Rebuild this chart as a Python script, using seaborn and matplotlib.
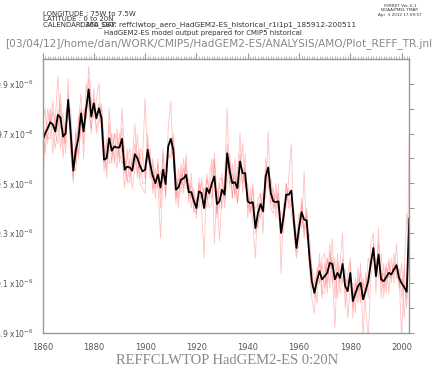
import numpy as np
import pandas as pd
import seaborn as sns
import matplotlib.pyplot as plt
from matplotlib.ticker import MultipleLocator, FixedLocator

sns.set_style("white")
plt.rcParams['font.family'] = ['DejaVu Sans']

# annual values 1860-2003, units 1e-6 m
years = list(range(1860, 2004))

# ensemble mean (black)
mean = [
    9.67, 9.70, 9.72, 9.745, 9.737, 9.708, 9.775, 9.764, 9.688, 9.70,
    9.835, 9.70, 9.551, 9.635, 9.681, 9.781, 9.708, 9.80, 9.877, 9.768,
    9.821, 9.761, 9.801, 9.761, 9.595, 9.601, 9.681, 9.631, 9.648, 9.644,
    9.644, 9.679, 9.555, 9.567, 9.564, 9.551, 9.617, 9.601, 9.57, 9.548,
    9.555, 9.635, 9.575, 9.53, 9.501, 9.535, 9.484, 9.555, 9.497, 9.648,
    9.679, 9.635, 9.475, 9.484, 9.515, 9.52, 9.535, 9.465, 9.465, 9.43,
    9.401, 9.468, 9.461, 9.401, 9.481, 9.461, 9.50, 9.528, 9.417, 9.428,
    9.475, 9.455, 9.621, 9.548, 9.501, 9.505, 9.481, 9.588, 9.541, 9.541,
    9.428, 9.421, 9.425, 9.321, 9.381, 9.417, 9.388, 9.528, 9.564, 9.461,
    9.428, 9.425, 9.428, 9.301, 9.368, 9.455, 9.455, 9.471, 9.348, 9.241,
    9.321, 9.385, 9.355, 9.351, 9.215, 9.108, 9.061, 9.111, 9.148, 9.115,
    9.128, 9.141, 9.181, 9.177, 9.115, 9.141, 9.121, 9.177, 9.088, 9.068,
    9.141, 9.028, 9.06, 9.088, 9.101, 9.035, 9.07, 9.108, 9.18, 9.241,
    9.128, 9.215, 9.115, 9.108, 9.124, 9.141, 9.135, 9.155, 9.172, 9.121,
    9.10, 9.084, 9.065, 9.361,
]

# individual ensemble members (light red)
run1 = [
    9.50, 9.66, 9.80, 9.74, 9.83, 9.70, 9.66, 9.82, 9.60, 9.74,
    9.76, 9.80, 9.58, 9.55, 9.74, 9.86, 9.60, 9.78, 9.84, 9.70,
    9.88, 9.70, 9.74, 9.82, 9.66, 9.52, 9.74, 9.58, 9.70, 9.60,
    9.70, 9.62, 9.48, 9.64, 9.52, 9.60, 9.74, 9.54, 9.62, 9.50,
    9.50, 9.70, 9.52, 9.58, 9.44, 9.60, 9.40, 9.62, 9.45, 9.72,
    9.83, 9.58, 9.42, 9.56, 9.46, 9.60, 9.48, 9.52, 9.40, 9.48,
    9.36, 9.52, 9.40, 9.20, 9.54, 9.44, 9.56, 9.60, 9.38, 9.50,
    9.40, 9.52, 9.80, 9.48, 9.58, 9.44, 9.52, 9.70, 9.46, 9.62,
    9.36, 9.48, 9.34, 9.20, 9.44, 9.46, 9.30, 9.60, 9.50, 9.42,
    9.48, 9.36, 9.50, 9.14, 9.42, 9.40, 9.52, 9.66, 9.30, 9.20,
    9.26, 9.44, 9.30, 9.40, 9.16, 9.04, 8.98, 9.16, 9.10, 9.20,
    9.22, 9.06, 9.26, 9.10, 9.20, 9.04, 9.18, 9.30, 9.00, 9.14,
    9.20, 8.96, 9.12, 9.02, 9.18, 8.88, 9.14, 9.04, 9.26, 9.30,
    9.06, 9.32, 9.04, 9.18, 9.06, 9.20, 9.10, 9.22, 9.12, 9.16,
    9.04, 9.16, 9.00, 9.30,
]
run2 = [
    9.74, 9.80, 9.66, 9.78, 9.62, 9.76, 9.93, 9.72, 9.78, 9.62,
    9.92, 9.62, 9.52, 9.70, 9.62, 9.72, 9.80, 9.76, 9.97, 9.84,
    9.76, 9.84, 9.90, 9.70, 9.55, 9.66, 9.62, 9.70, 9.58, 9.72,
    9.58, 9.80, 9.62, 9.50, 9.60, 9.48, 9.56, 9.70, 9.52, 9.60,
    9.84, 9.58, 9.64, 9.46, 9.56, 9.48, 9.55, 9.50, 9.58, 9.60,
    9.62, 9.70, 9.52, 9.40, 9.58, 9.46, 9.62, 9.42, 9.54, 9.38,
    9.44, 9.40, 9.52, 9.46, 9.40, 9.52, 9.60, 9.26, 9.48, 9.40,
    9.54, 9.40, 9.56, 9.62, 9.44, 9.60, 9.42, 9.54, 9.66, 9.48,
    9.50, 9.38, 9.48, 9.36, 9.32, 9.40, 9.46, 9.44, 9.71, 9.40,
    9.38, 9.50, 9.36, 9.34, 9.30, 9.50, 9.40, 9.42, 9.40, 9.28,
    9.38, 9.32, 9.55, 9.28, 9.30, 9.16, 9.12, 9.02, 9.22, 9.06,
    9.06, 9.20, 9.08, 9.28, 9.04, 9.22, 9.06, 9.12, 9.16, 8.96,
    9.08, 9.10, 8.98, 9.16, 9.04, 9.12, 9.00, 8.88, 9.12, 9.20,
    9.20, 9.12, 9.22, 9.04, 9.18, 9.06, 9.20, 9.10, 9.26, 9.08,
    9.18, 8.96, 9.12, 9.20,
]
run3 = [
    9.76, 9.62, 9.74, 9.80, 9.72, 9.64, 9.74, 9.86, 9.66, 9.78,
    9.82, 9.74, 9.60, 9.58, 9.76, 9.80, 9.66, 9.90, 9.80, 9.72,
    9.84, 9.72, 9.76, 9.80, 9.62, 9.56, 9.80, 9.64, 9.62, 9.56,
    9.66, 9.72, 9.54, 9.60, 9.64, 9.56, 9.58, 9.62, 9.50, 9.48,
    9.46, 9.66, 9.54, 9.60, 9.48, 9.58, 9.46, 9.64, 9.44, 9.66,
    9.66, 9.60, 9.44, 9.52, 9.50, 9.56, 9.50, 9.50, 9.44, 9.46,
    9.42, 9.50, 9.44, 9.48, 9.46, 9.40, 9.42, 9.62, 9.46, 9.27,
    9.46, 9.48, 9.66, 9.50, 9.54, 9.46, 9.56, 9.62, 9.50, 9.56,
    9.40, 9.44, 9.42, 9.40, 9.42, 9.36, 9.42, 9.56, 9.48, 9.52,
    9.46, 9.40, 9.46, 9.32, 9.40, 9.44, 9.48, 9.38, 9.32, 9.22,
    9.30, 9.42, 9.28, 9.36, 9.18, 9.08, 9.10, 9.14, 9.18, 9.04,
    9.18, 9.10, 9.22, 9.14, 8.92, 9.18, 9.10, 9.20, 9.06, 9.08,
    9.18, 9.00, 9.10, 9.06, 9.14, 9.06, 9.08, 9.20, 9.16, 9.26,
    9.14, 9.26, 9.10, 9.14, 9.10, 9.18, 9.12, 9.18, 9.14, 9.10,
    9.12, 9.10, 9.04, 9.70,
]
run4 = [
    9.68, 9.72, 9.68, 9.68, 9.79, 9.74, 9.79, 9.64, 9.72, 9.66,
    9.86, 9.64, 9.50, 9.72, 9.60, 9.74, 9.78, 9.76, 9.92, 9.82,
    9.80, 9.78, 9.82, 9.72, 9.58, 9.68, 9.58, 9.60, 9.70, 9.68,
    9.62, 9.58, 9.60, 9.52, 9.50, 9.58, 9.66, 9.52, 9.64, 9.62,
    9.52, 9.62, 9.60, 9.48, 9.52, 9.50, 9.28, 9.54, 9.52, 9.62,
    9.60, 9.68, 9.54, 9.44, 9.54, 9.48, 9.58, 9.44, 9.50, 9.40,
    9.38, 9.46, 9.50, 9.44, 9.52, 9.48, 9.44, 9.58, 9.36, 9.52,
    9.52, 9.44, 9.50, 9.60, 9.44, 9.54, 9.42, 9.50, 9.56, 9.50,
    9.46, 9.38, 9.50, 9.30, 9.34, 9.46, 9.38, 9.52, 9.56, 9.50,
    9.40, 9.46, 9.40, 9.38, 9.36, 9.50, 9.42, 9.44, 9.38, 9.26,
    9.34, 9.36, 9.32, 9.38, 9.24, 9.16, 9.04, 9.10, 9.10, 9.18,
    9.08, 9.20, 9.16, 9.20, 9.12, 9.12, 9.14, 9.10, 9.12, 9.10,
    9.10, 9.06, 9.04, 9.12, 9.02, 9.10, 9.06, 9.14, 9.18, 9.20,
    9.12, 9.18, 9.14, 9.08, 9.16, 9.12, 9.14, 9.14, 9.18, 9.14,
    8.88, 9.14, 9.38, 9.26,
]

runs = {"r1": run1, "r2": run2, "r3": run3, "r4": run4}
df = pd.DataFrame([(y, v, k) for k, vals in runs.items() for y, v in zip(years, vals)],
                  columns=["year", "reff", "run"])
dm = pd.DataFrame({"year": years, "reff": mean})

fig = plt.figure(figsize=(4.37, 3.74), dpi=100)
ax = fig.add_axes([0.0973, 0.1096, 0.8393, 0.7334])

sns.lineplot(data=df, x="year", y="reff", hue="run", estimator=None,
             palette=["#ff4040"] * 4, alpha=0.32, lw=0.6, legend=False, ax=ax)
sns.lineplot(data=dm, x="year", y="reff", color="black", lw=1.3, ax=ax)

ax.set_xlim(1860, 2003)
ax.set_ylim(8.9, 10.0)
ax.set_xlabel("")
ax.set_ylabel("")

# axes style
gray = "#999999"
for s in ax.spines.values():
    s.set_color(gray)
    s.set_linewidth(1)
ax.xaxis.set_major_locator(FixedLocator([1860, 1880, 1900, 1920, 1940, 1960, 1980, 2000]))
ax.xaxis.set_minor_locator(MultipleLocator(1))
yt = [8.9, 9.1, 9.3, 9.5, 9.7, 9.9]
ax.yaxis.set_major_locator(FixedLocator(yt))
ax.yaxis.set_minor_locator(FixedLocator([9.0, 9.2, 9.4, 9.6, 9.8]))
ax.set_yticklabels([f"{v:.1f} x10$^{{-6}}$" for v in yt])
ax.tick_params(axis="both", which="both", direction="out", color=gray,
               labelcolor="#555555", labelsize=6, top=True, right=True)
ax.tick_params(axis="x", which="major", length=4, width=0.8, pad=3)
ax.tick_params(axis="x", which="minor", length=2, width=0.5)
ax.tick_params(axis="y", which="both", length=3.5, width=0.8, pad=3)
ax.tick_params(axis="x", which="both", labeltop=False)
ax.tick_params(axis="y", which="both", labelright=False)
for lab in ax.get_yticklabels():
    lab.set_fontsize(5.5)

# header text
hc = "#333333"
fig.text(0.099, 0.962, "LONGITUDE : 75W to 7.5W", fontsize=5, color=hc, va="center")
fig.text(0.099, 0.948, "LATITUDE : 0 to 20N", fontsize=5, color=hc, va="center")
fig.text(0.099, 0.933, "CALENDAR: 360_DAY", fontsize=5, color=hc, va="center")
fig.text(0.183, 0.933, "DATA SET: reffclwtop_aero_HadGEM2-ES_historical_r1i1p1_185912-200511",
         fontsize=5.3, color=hc, va="center")
fig.text(0.465, 0.911, "HadGEM2-ES model output prepared for CMIP5 historical",
         fontsize=5, color=hc, va="center", ha="center")
fig.text(0.012, 0.884, "[03/04/12]/home/dan/WORK/CMIP5/HadGEM2-ES/ANALYSIS/AMO/Plot_REFF_TR.jnl",
         fontsize=7.6, color="#888888", va="center")
fig.text(0.915, 0.99, "FERRET Ver. 6.1", fontsize=3, color=hc, va="top", ha="center")
fig.text(0.915, 0.978, "NOAA/PMEL TMAP", fontsize=3, color=hc, va="top", ha="center")
fig.text(0.915, 0.966, "Apr  3 2012 17:59:57", fontsize=3, color=hc, va="top", ha="center")

# bottom title
fig.text(0.52, 0.035, "REFFCLWTOP HadGEM2-ES 0:20N", fontsize=10.5, color="#888888",
         family=["Liberation Serif"], ha="center", va="center")

fig.savefig("out.png", dpi=100)
